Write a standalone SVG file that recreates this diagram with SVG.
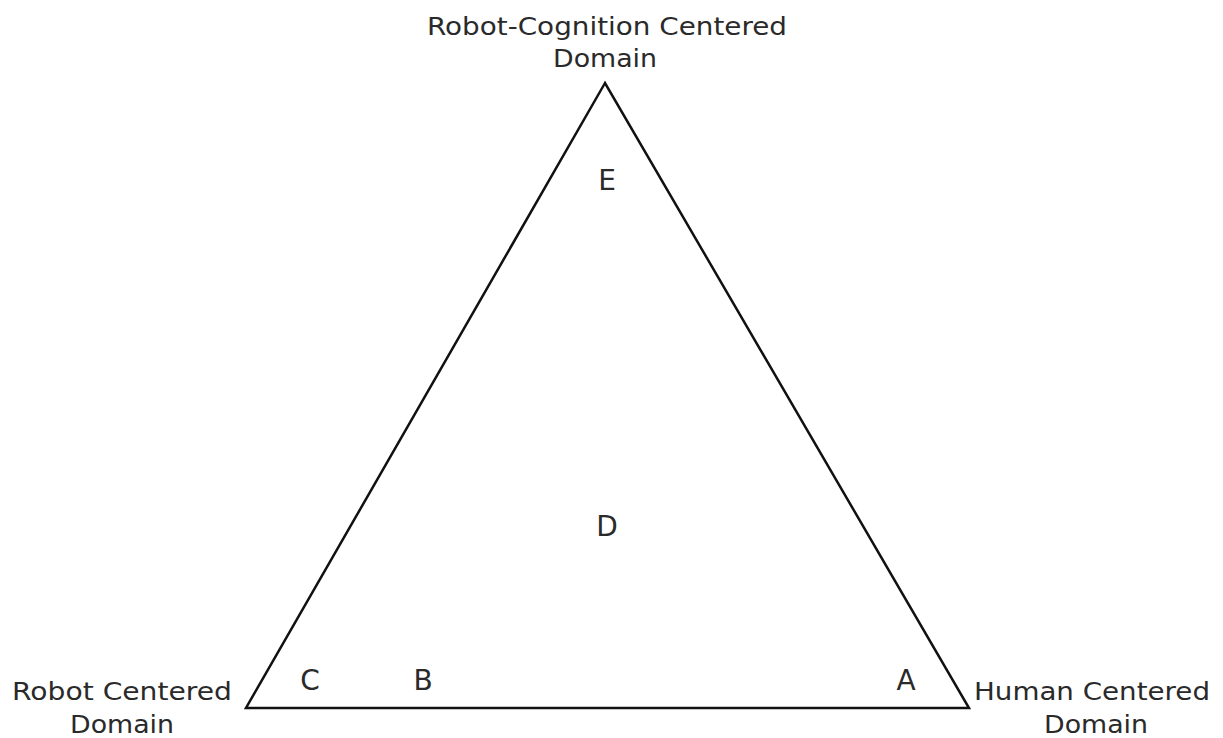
<svg xmlns="http://www.w3.org/2000/svg" width="1223" height="738" viewBox="0 0 1223 738">
<style>
.t{font-family:"DejaVu Sans","Liberation Sans",sans-serif;font-size:25px;fill:#2a2a2a;text-anchor:middle}
.l{font-family:"DejaVu Sans","Liberation Sans",sans-serif;font-size:28px;fill:#2a2a2a;text-anchor:middle}
</style>
<rect width="1223" height="738" fill="#ffffff"/>
<g id="connectors">
<polygon points="605,83 246,708 969,708" fill="none" stroke="#111" stroke-width="2.5" stroke-linejoin="miter"/>
</g>
<g id="top-label">
<text class="t" x="607" y="35" textLength="360" lengthAdjust="spacingAndGlyphs">Robot-Cognition Centered</text>
<text class="t" x="605" y="67" textLength="104" lengthAdjust="spacingAndGlyphs">Domain</text>
</g>
<g id="left-label">
<text class="t" x="122" y="700" textLength="220" lengthAdjust="spacingAndGlyphs">Robot Centered</text>
<text class="t" x="122" y="733" textLength="104" lengthAdjust="spacingAndGlyphs">Domain</text>
</g>
<g id="right-label">
<text class="t" x="1092" y="700" textLength="236" lengthAdjust="spacingAndGlyphs">Human Centered</text>
<text class="t" x="1096" y="733" textLength="104" lengthAdjust="spacingAndGlyphs">Domain</text>
</g>
<g id="node-E"><text class="l" x="607" y="190">E</text></g>
<g id="node-D"><text class="l" x="607" y="536">D</text></g>
<g id="node-C"><text class="l" x="310" y="690">C</text></g>
<g id="node-B"><text class="l" x="423" y="690">B</text></g>
<g id="node-A"><text class="l" x="906" y="690">A</text></g>
</svg>
